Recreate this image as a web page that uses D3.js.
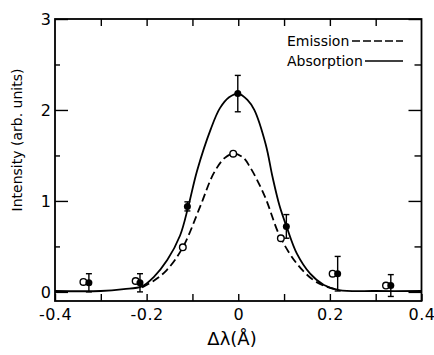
<!DOCTYPE html>
<html>
<head>
<meta charset="utf-8">
<script src="https://cdn.jsdelivr.net/npm/d3@7"></script>
<style>
  body { margin: 0; background: #fff; }
  svg { display: block; font-family: "DejaVu Sans", sans-serif; }
</style>
</head>
<body>
<div id="chart"></div>
<script>
// tick values / labels
const xTicks = [-0.4, -0.3, -0.2, -0.1, 0, 0.1, 0.2, 0.3, 0.4];
const xTickLabels = ["-0.4", "", "-0.2", "", "0", "", "0.2", "", "0.4"];
const yMajor = [0, 1, 2, 3];
const yMinor = [0.5, 1.5, 2.5];

// measured points
const absorptionX = [-0.326, -0.2145, -0.111, -0.001, 0.105, 0.217, 0.333];
const absorptionY = [0.10, 0.10, 0.94, 2.18, 0.72, 0.20, 0.07];
const absorptionErr = [0.10, 0.10, 0.05, 0.20, 0.13, 0.19, 0.12];
const emissionX = [-0.338, -0.224, -0.121, -0.011, 0.093, 0.206, 0.3225];
const emissionY = [0.11, 0.12, 0.49, 1.52, 0.59, 0.20, 0.07];

// fitted curves
const absorptionFitX = [-0.40, -0.30, -0.25, -0.21, -0.185, -0.155, -0.127, -0.109, -0.09, -0.06, -0.04, -0.02, 0.00, 0.02, 0.035, 0.06, 0.075, 0.09, 0.106, 0.128, 0.157, 0.187, 0.22, 0.30, 0.40];
const absorptionFitY = [0.01, 0.01, 0.03, 0.06, 0.16, 0.35, 0.62, 0.94, 1.33, 1.79, 2.02, 2.14, 2.18, 2.11, 2.00, 1.62, 1.26, 0.95, 0.71, 0.42, 0.20, 0.075, 0.02, 0.01, 0.01];
const emissionFitX = [-0.21, -0.185, -0.156, -0.121, -0.083, -0.054, -0.03, -0.011, 0.01, 0.026, 0.058, 0.091, 0.128, 0.164, 0.193, 0.22];
const emissionFitY = [0.05, 0.12, 0.24, 0.49, 0.94, 1.30, 1.47, 1.52, 1.48, 1.37, 1.05, 0.61, 0.31, 0.13, 0.057, 0.02];

const width = 434, height = 355;
const margin = ({top: 19, right: 12.5, bottom: 54, left: 55});

const x = d3.scaleLinear([-0.4, 0.4], [margin.left, width - margin.right]);
const y = d3.scaleLinear([-0.1, 3], [height - margin.bottom, margin.top]);

const svg = d3.select("#chart")
    .append("svg")
    .attr("width", width)
    .attr("height", height);

// axes, ticks drawn inward
function styleAxis(g) {
    g.attr("font-family", null).attr("font-size", null);
    g.select(".domain").remove();
    g.selectAll(".tick line").attr("stroke", "#000").attr("stroke-width", 1.4);
    g.selectAll(".tick text").attr("fill", "#000");
}

svg.append("g")
    .attr("transform", `translate(${margin.left},0)`)
    .call(d3.axisLeft(y).tickValues(yMajor).tickSize(-13).tickPadding(4).tickFormat(d3.format("d")))
    .call(styleAxis)
    .attr("font-size", 16);

svg.append("g")
    .attr("transform", `translate(${margin.left},0)`)
    .call(d3.axisLeft(y).tickValues(yMinor).tickSize(-5).tickFormat(""))
    .call(styleAxis);

svg.append("g")
    .attr("transform", `translate(${width - margin.right},0)`)
    .call(d3.axisRight(y).tickValues(yMajor).tickSize(-13).tickFormat(""))
    .call(styleAxis);

svg.append("g")
    .attr("transform", `translate(${width - margin.right},0)`)
    .call(d3.axisRight(y).tickValues(yMinor).tickSize(-7).tickFormat(""))
    .call(styleAxis);

svg.append("g")
    .attr("transform", `translate(0,${height - margin.bottom})`)
    .call(d3.axisBottom(x).tickValues(xTicks).tickSize(-7).tickPadding(8)
        .tickFormat((d, i) => xTickLabels[i]))
    .call(styleAxis)
    .attr("font-size", 16)
    .attr("letter-spacing", 0.5);

svg.append("g")
    .attr("transform", `translate(0,${margin.top})`)
    .call(d3.axisTop(x).tickValues(xTicks.slice(1, -1)).tickSize(-7).tickFormat(""))
    .call(styleAxis);

// frame
svg.append("rect")
    .attr("x", margin.left)
    .attr("y", margin.top)
    .attr("width", width - margin.right - margin.left)
    .attr("height", height - margin.bottom - margin.top)
    .attr("fill", "none")
    .attr("stroke", "#000")
    .attr("stroke-width", 1.8);

// fitted curves
const line = d3.line()
    .x(d => x(d[0]))
    .y(d => y(d[1]))
    .curve(d3.curveCatmullRom.alpha(0.5));

svg.append("path")
    .datum(d3.zip(absorptionFitX, absorptionFitY))
    .attr("fill", "none")
    .attr("stroke", "#000")
    .attr("stroke-width", 1.8)
    .attr("d", line);

svg.append("path")
    .datum(d3.zip(emissionFitX, emissionFitY))
    .attr("fill", "none")
    .attr("stroke", "#000")
    .attr("stroke-width", 1.8)
    .attr("stroke-dasharray", "8,4")
    .attr("d", line);

// error bars for absorption points
const absorption = absorptionX.map((v, i) => ({x: v, y: absorptionY[i], e: absorptionErr[i]}));
const emission = emissionX.map((v, i) => ({x: v, y: emissionY[i]}));

const err = svg.append("g")
    .attr("stroke", "#000")
    .attr("stroke-width", 1.4)
    .selectAll("g")
    .data(absorption)
    .join("g");

err.append("line")
    .attr("x1", d => x(d.x)).attr("x2", d => x(d.x))
    .attr("y1", d => y(d.y + d.e)).attr("y2", d => y(d.y - d.e));
err.append("line")
    .attr("x1", d => x(d.x) - 3).attr("x2", d => x(d.x) + 3)
    .attr("y1", d => y(d.y + d.e)).attr("y2", d => y(d.y + d.e));
err.append("line")
    .attr("x1", d => x(d.x) - 3).attr("x2", d => x(d.x) + 3)
    .attr("y1", d => y(d.y - d.e)).attr("y2", d => y(d.y - d.e));

svg.append("g")
    .selectAll("circle")
    .data(emission)
    .join("circle")
    .attr("cx", d => x(d.x))
    .attr("cy", d => y(d.y))
    .attr("r", 3.3)
    .attr("fill", "#fff")
    .attr("stroke", "#000")
    .attr("stroke-width", 1.4);

svg.append("g")
    .selectAll("circle")
    .data(absorption)
    .join("circle")
    .attr("cx", d => x(d.x))
    .attr("cy", d => y(d.y))
    .attr("r", 3.5)
    .attr("fill", "#000");

// legend
const legend = svg.append("g").attr("font-size", 14);
legend.append("text").attr("x", 287).attr("y", 46).text("Emission");
legend.append("line")
    .attr("x1", 352).attr("x2", 403).attr("y1", 41).attr("y2", 41)
    .attr("stroke", "#000").attr("stroke-width", 1.6).attr("stroke-dasharray", "8,3");
legend.append("text").attr("x", 287).attr("y", 66).text("Absorption");
legend.append("line")
    .attr("x1", 365).attr("x2", 403).attr("y1", 61).attr("y2", 61)
    .attr("stroke", "#000").attr("stroke-width", 1.6);

// axis titles
svg.append("text")
    .attr("x", 232)
    .attr("y", 345)
    .attr("text-anchor", "middle")
    .attr("font-size", 18)
    .text("Δλ(Å)");

svg.append("text")
    .attr("transform", "translate(22,140) rotate(-90)")
    .attr("text-anchor", "middle")
    .attr("font-size", 14)
    .text("Intensity (arb. units)");
</script>
</body>
</html>
